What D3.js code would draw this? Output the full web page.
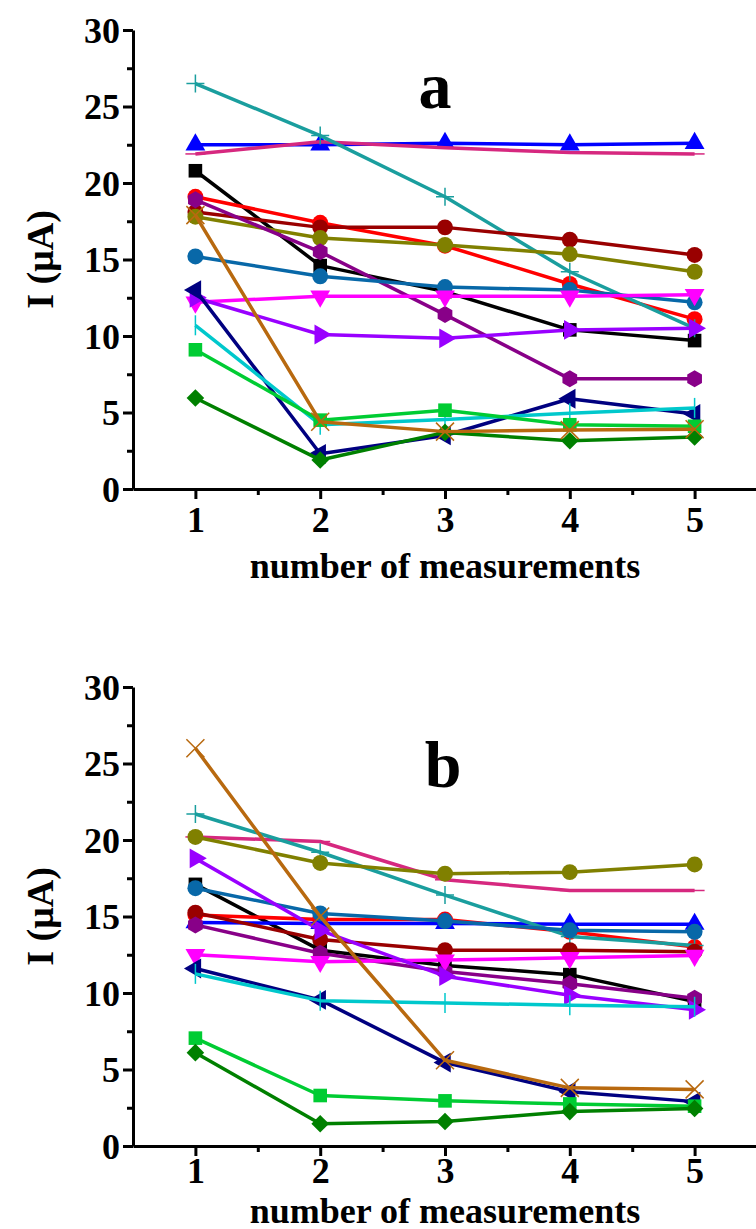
<!DOCTYPE html>
<html>
<head>
<meta charset="utf-8">
<script src="https://cdn.jsdelivr.net/npm/d3@7"></script>
<style>
  body { margin: 0; background: #fff; }
  svg text { font-family: "Liberation Serif", "Times New Roman", serif; font-weight: bold; fill: #000; }
</style>
</head>
<body>
<div id="chart"></div>
<script>
const measurements = [1, 2, 3, 4, 5];
const yTicks = [0, 5, 10, 15, 20, 25, 30];
const yMinorTicks = [2.5, 7.5, 12.5, 17.5, 22.5, 27.5];
const xMinorTicks = [1.5, 2.5, 3.5, 4.5, 5.5];
const seriesNames = ["black", "red", "blue", "pink", "teal", "wine", "olive", "purple",
  "steel", "magenta", "violet", "navy", "cyan", "green", "darkgreen", "orange"];

// panel a
const aBlack = [20.8, 14.6, 12.9, 10.4, 9.7];
const aRed = [19.1, 17.4, 15.9, 13.4, 11.1];
const aBlue = [22.5, 22.5, 22.6, 22.5, 22.6];
const aPink = [21.9, 22.7, 22.3, 22.0, 21.9];
const aTeal = [26.5, 23.1, 19.1, 14.2, 10.5];
const aWine = [18.1, 17.1, 17.1, 16.3, 15.3];
const aOlive = [17.8, 16.4, 15.95, 15.35, 14.2];
const aPurple = [18.9, 15.5, 11.4, 7.2, 7.2];
const aSteel = [15.2, 13.9, 13.2, 13.0, 12.2];
const aMagenta = [12.2, 12.6, 12.6, 12.6, 12.7];
const aViolet = [12.5, 10.1, 9.85, 10.4, 10.5];
const aNavy = [13.0, 2.3, 3.5, 5.9, 4.9];
const aCyan = [10.7, 4.2, 4.55, 4.95, 5.3];
const aGreen = [9.1, 4.5, 5.15, 4.2, 4.1];
const aDarkGreen = [5.95, 1.9, 3.7, 3.15, 3.4];
const aOrange = [17.9, 4.4, 3.75, 3.85, 3.9];

// panel b
const bBlack = [17.1, 12.8, 11.8, 11.2, 9.45];
const bRed = [15.1, 14.8, 14.8, 14.0, 13.0];
const bBlue = [14.6, 14.55, 14.55, 14.5, 14.5];
const bPink = [20.2, 19.9, 17.4, 16.7, 16.7];
const bTeal = [21.7, 19.2, 16.4, 13.7, 13.1];
const bWine = [15.25, 13.5, 12.8, 12.8, 12.7];
const bOlive = [20.2, 18.5, 17.8, 17.9, 18.4];
const bPurple = [14.45, 12.6, 11.4, 10.6, 9.65];
const bSteel = [16.85, 15.2, 14.7, 14.1, 14.0];
const bMagenta = [12.5, 12.05, 12.15, 12.3, 12.45];
const bViolet = [18.8, 14.1, 11.1, 9.85, 8.9];
const bNavy = [11.6, 9.55, 5.45, 3.55, 2.9];
const bCyan = [11.25, 9.5, 9.35, 9.2, 9.1];
const bGreen = [7.05, 3.3, 2.95, 2.75, 2.6];
const bDarkGreen = [6.1, 1.45, 1.6, 2.25, 2.45];
const bOrange = [26.0, 15.0, 5.6, 3.8, 3.7];

const panelAValues = [aBlack, aRed, aBlue, aPink, aTeal, aWine, aOlive, aPurple,
  aSteel, aMagenta, aViolet, aNavy, aCyan, aGreen, aDarkGreen, aOrange];
const panelBValues = [bBlack, bRed, bBlue, bPink, bTeal, bWine, bOlive, bPurple,
  bSteel, bMagenta, bViolet, bNavy, bCyan, bGreen, bDarkGreen, bOrange];

// look of each series
const STYLES = {
  black: { color: "#000000", marker: "square" },
  red: { color: "#ff0000", marker: "circle" },
  blue: { color: "#0000ff", marker: "triUp" },
  pink: { color: "#d6287f", marker: "dash" },
  teal: { color: "#1a9e9e", marker: "plus" },
  wine: { color: "#990000", marker: "circle" },
  olive: { color: "#808000", marker: "circle" },
  purple: { color: "#880088", marker: "hexagon" },
  steel: { color: "#0868a8", marker: "circle" },
  magenta: { color: "#ff00ff", marker: "triDown" },
  violet: { color: "#9900ff", marker: "triRight" },
  navy: { color: "#000080", marker: "triLeft" },
  cyan: { color: "#00c8cc", marker: "vbar" },
  green: { color: "#00cc33", marker: "square" },
  darkgreen: { color: "#008000", marker: "diamond" },
  orange: { color: "#b8690f", marker: "cross" }
};

const width = 756;
const height = 1229;

const svg = d3.select("#chart")
  .append("svg")
  .attr("width", width)
  .attr("height", height);

const x = d3.scaleLinear().domain([0.5, 5.5]).range([133, 757]);

function hexPath(r) {
  const pts = d3.range(6).map((i) => {
    const a = Math.PI / 6 + i * Math.PI / 3;
    return [r * Math.cos(a), r * Math.sin(a)];
  });
  return "M" + pts.map((p) => p.join(",")).join("L") + "Z";
}

function drawMarker(g, type, color, px, py) {
  const t = `translate(${px},${py})`;
  if (type === "circle") {
    g.append("path").attr("transform", t).attr("d", d3.symbol().type(d3.symbolCircle).size(200)()).attr("fill", color);
  } else if (type === "square") {
    g.append("path").attr("transform", t).attr("d", d3.symbol().type(d3.symbolSquare).size(185)()).attr("fill", color);
  } else if (type === "diamond") {
    g.append("path").attr("transform", t + " rotate(45)").attr("d", d3.symbol().type(d3.symbolSquare).size(155)()).attr("fill", color);
  } else if (type.startsWith("tri")) {
    const rot = { triUp: 0, triDown: 180, triRight: 90, triLeft: -90 }[type];
    g.append("path").attr("transform", t + ` rotate(${rot})`).attr("d", d3.symbol().type(d3.symbolTriangle).size(170)()).attr("fill", color);
  } else if (type === "hexagon") {
    g.append("path").attr("transform", t).attr("d", hexPath(8.5)).attr("fill", color);
  } else if (type === "plus") {
    g.append("path").attr("transform", t).attr("d", "M-9,0H9M0,-9V9").attr("stroke", color).attr("stroke-width", 1.5).attr("fill", "none");
  } else if (type === "cross") {
    g.append("path").attr("transform", t).attr("d", "M-9,-9L9,9M-9,9L9,-9").attr("stroke", color).attr("stroke-width", 1.5).attr("fill", "none");
  } else if (type === "vbar") {
    g.append("path").attr("transform", t).attr("d", "M0,-10V10").attr("stroke", color).attr("stroke-width", 1.5).attr("fill", "none");
  } else if (type === "dash") {
    g.append("path").attr("transform", t).attr("d", "M-10,0H10").attr("stroke", color).attr("stroke-width", 1.5).attr("fill", "none");
  }
}

function drawPanel(values, yTop, yBottom, tickBase, titleBase, letter, letterX, letterY) {
  const y = d3.scaleLinear().domain([0, 30]).range([yBottom, yTop]);
  const g = svg.append("g");

  // series
  values.forEach((vals, i) => {
    const st = STYLES[seriesNames[i]];
    const pts = measurements.map((m, j) => [x(m), y(vals[j])]);
    g.append("path")
      .attr("d", d3.line()(pts))
      .attr("fill", "none")
      .attr("stroke", st.color)
      .attr("stroke-width", 3.5)
      .attr("stroke-linejoin", "round");
    pts.forEach((p) => drawMarker(g, st.marker, st.color, p[0], p[1]));
  });

  // axes
  const yAxis = g.append("g").attr("transform", "translate(133,0)")
    .call(d3.axisLeft(y).tickValues(yTicks).tickSize(10).tickSizeOuter(0).tickPadding(3));
  g.append("g").attr("transform", "translate(133,0)")
    .call(d3.axisLeft(y).tickValues(yMinorTicks).tickSize(6).tickSizeOuter(0).tickFormat(""))
    .select(".domain").remove();
  const xAxis = g.append("g").attr("transform", `translate(0,${yBottom})`)
    .call(d3.axisBottom(x).tickValues(measurements).tickSize(10).tickSizeOuter(0).tickFormat(d3.format("d")));
  g.append("g").attr("transform", `translate(0,${yBottom})`)
    .call(d3.axisBottom(x).tickValues(xMinorTicks).tickSize(6).tickSizeOuter(0).tickFormat(""))
    .select(".domain").remove();

  g.selectAll(".domain, .tick line").attr("stroke", "#000").attr("stroke-width", 3);
  g.selectAll(".tick text").attr("font-size", 36).attr("font-family", "Liberation Serif").attr("font-weight", "bold").attr("fill", "#000");
  yAxis.selectAll(".tick text").attr("dy", "0.34em");
  xAxis.selectAll(".tick text").attr("y", tickBase - yBottom).attr("dy", 0);

  g.append("text")
    .attr("x", 445)
    .attr("y", titleBase)
    .attr("text-anchor", "middle")
    .attr("font-size", 36)
    .text("number of measurements");

  g.append("text")
    .attr("transform", `translate(53,${(yTop + yBottom) / 2}) rotate(-90)`)
    .attr("text-anchor", "middle")
    .attr("font-size", 38)
    .text("I (μA)");

  g.append("text")
    .attr("x", letterX)
    .attr("y", letterY)
    .attr("text-anchor", "middle")
    .attr("font-size", 66)
    .text(letter);
}

drawPanel(panelAValues, 30, 489, 532, 578, "a", 435, 108);
drawPanel(panelBValues, 687, 1146, 1183, 1223, "b", 443, 787);
</script>
</body>
</html>
